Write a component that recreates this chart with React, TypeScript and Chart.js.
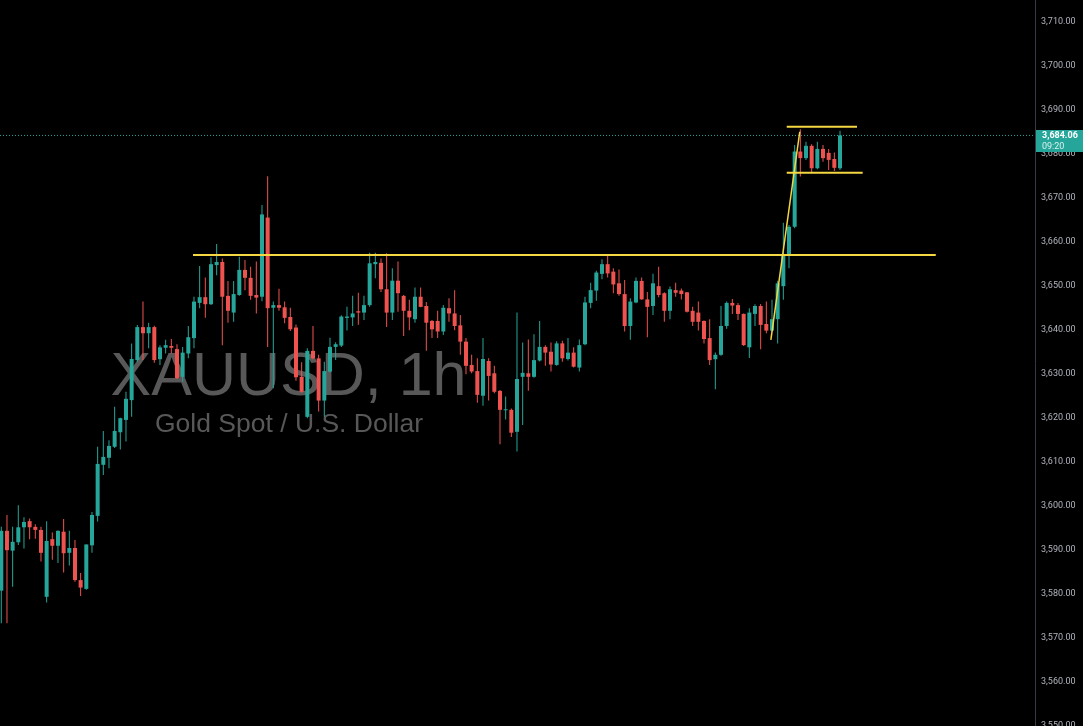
import React, { useEffect, useRef } from "react";
import { Chart, registerables } from "chart.js";

Chart.register(...registerables);

// Hourly candles, XAUUSD (index = bar number)
const opens = [
  3580.6, 3594.2, 3589.7, 3591.6, 3595.0, 3596.4, 3595.1, 3594.4, 3579.2, 3592.3,
  3590.8, 3594.0, 3589.2, 3590.3, 3583.0, 3581.0, 3590.9, 3597.6, 3609.2, 3610.8,
  3613.3, 3616.6, 3619.4, 3623.9, 3633.0, 3640.5, 3639.1, 3640.5, 3633.2, 3635.8,
  3636.2, 3635.5, 3629.2, 3634.5, 3638.0, 3646.0, 3647.3, 3645.7, 3654.6, 3655.3,
  3647.6, 3643.8, 3647.8, 3653.5, 3651.7, 3647.8, 3647.4, 3665.4, 3644.9, 3645.5,
  3645.0, 3642.8, 3640.4, 3629.2, 3620.1, 3635.1, 3633.4, 3623.8, 3630.4, 3636.0,
  3636.3, 3642.6, 3642.7, 3644.1, 3643.8, 3645.5, 3654.8, 3655.1, 3649.1, 3643.8,
  3651.05, 3647.6, 3644.2, 3642.3, 3647.4, 3645.3, 3641.9, 3641.9, 3639.5, 3644.8,
  3643.6, 3640.9, 3637.2, 3631.9, 3630.5, 3624.9, 3632.8, 3630.0, 3626.0, 3621.6,
  3621.7, 3616.7, 3629.2, 3630.0, 3629.2, 3632.9, 3636.0, 3634.9, 3631.9, 3636.8,
  3633.25, 3634.7, 3631.3, 3636.6, 3646.0, 3648.8, 3652.6, 3654.8, 3653.1, 3650.45,
  3648.0, 3640.75, 3646.1, 3651.0, 3646.8, 3645.3, 3649.8, 3648.2, 3644.2, 3648.9,
  3648.8, 3648.4, 3644.2, 3643.8, 3641.9, 3638.0, 3633.2, 3634.2, 3640.75, 3646.0,
  3645.5, 3643.5, 3635.9, 3643.5, 3645.3, 3641.2, 3639.7, 3642.3, 3649.8, 3656.9,
  3663.3, 3680.4, 3678.9, 3681.7, 3676.6, 3681.0, 3680.1, 3678.7, 3676.6,
];
const highs = [
  3595.1, 3597.8, 3595.1, 3600.0, 3597.3, 3597.0, 3595.7, 3595.1, 3596.4, 3593.8,
  3594.3, 3596.9, 3594.2, 3592.1, 3584.6, 3591.1, 3598.5, 3613.3, 3616.9, 3614.8,
  3622.4, 3619.9, 3625.8, 3636.8, 3641.0, 3646.3, 3641.5, 3640.8, 3636.4, 3637.6,
  3637.8, 3636.6, 3636.0, 3640.75, 3647.4, 3654.4, 3651.8, 3656.4, 3659.4, 3656.1,
  3651.0, 3651.0, 3656.5, 3655.75, 3654.2, 3655.4, 3668.25, 3674.8, 3646.3, 3649.2,
  3646.3, 3644.9, 3641.1, 3632.5, 3635.7, 3640.75, 3634.2, 3632.6, 3638.1, 3637.05,
  3643.2, 3645.1, 3647.6, 3648.3, 3647.6, 3657.4, 3657.4, 3656.1, 3657.3, 3653.9,
  3655.4, 3647.8, 3646.7, 3649.5, 3649.5, 3646.2, 3642.1, 3644.2, 3645.5, 3647.05,
  3648.9, 3643.25, 3638.0, 3634.2, 3633.4, 3638.0, 3633.4, 3631.7, 3626.2, 3624.7,
  3622.0, 3643.8, 3637.0, 3637.7, 3638.9, 3641.9, 3636.4, 3637.0, 3637.3, 3637.4,
  3638.0, 3635.9, 3637.7, 3647.4, 3650.6, 3653.3, 3655.9, 3656.7, 3653.9, 3653.6,
  3651.2, 3647.05, 3651.8, 3651.8, 3648.5, 3652.6, 3654.2, 3648.4, 3649.7, 3650.6,
  3649.3, 3648.5, 3645.1, 3646.3, 3642.0, 3642.3, 3634.7, 3645.3, 3646.3, 3646.9,
  3646.0, 3643.6, 3644.8, 3645.7, 3645.75, 3646.3, 3646.7, 3651.05, 3664.2, 3663.7,
  3681.9, 3685.45, 3682.6, 3682.05, 3682.6, 3681.9, 3681.0, 3680.2, 3685.1,
];
const lows = [
  3573.2, 3573.2, 3581.5, 3591.0, 3590.2, 3592.3, 3592.4, 3587.2, 3577.9, 3587.6,
  3586.9, 3584.7, 3586.3, 3582.6, 3579.4, 3580.8, 3589.2, 3596.3, 3606.9, 3608.4,
  3613.0, 3612.7, 3614.5, 3620.1, 3632.6, 3633.0, 3635.7, 3632.4, 3631.9, 3634.5,
  3634.5, 3628.7, 3628.1, 3633.4, 3635.7, 3644.8, 3642.6, 3645.5, 3652.3, 3636.4,
  3641.5, 3641.7, 3647.6, 3648.9, 3646.7, 3643.6, 3646.4, 3636.0, 3626.6, 3644.2,
  3641.4, 3639.6, 3628.3, 3625.6, 3619.8, 3633.2, 3621.3, 3620.1, 3630.2, 3633.0,
  3636.0, 3639.7, 3640.75, 3641.05, 3642.1, 3645.1, 3651.6, 3648.5, 3640.5, 3642.1,
  3644.0, 3638.5, 3639.8, 3641.5, 3645.0, 3635.1, 3638.0, 3638.0, 3638.7, 3641.7,
  3639.8, 3634.2, 3629.8, 3630.0, 3623.3, 3622.6, 3623.8, 3625.45, 3613.9, 3619.5,
  3615.5, 3612.2, 3618.25, 3626.05, 3629.0, 3632.7, 3631.7, 3630.4, 3631.7, 3632.6,
  3632.9, 3631.3, 3630.4, 3636.4, 3644.8, 3646.5, 3651.4, 3651.8, 3648.2, 3647.6,
  3639.5, 3637.6, 3645.9, 3646.7, 3638.2, 3643.25, 3647.3, 3641.7, 3642.3, 3647.4,
  3646.8, 3643.8, 3640.75, 3639.7, 3636.8, 3631.9, 3626.4, 3634.0, 3640.1, 3643.5,
  3642.1, 3636.2, 3633.5, 3640.75, 3635.45, 3639.1, 3639.5, 3636.8, 3646.7, 3653.9,
  3662.95, 3674.7, 3678.5, 3675.45, 3676.4, 3678.1, 3676.2, 3676.0, 3676.2,
];
const closes = [
  3594.2, 3589.8, 3591.7, 3595.0, 3596.2, 3595.0, 3594.4, 3589.2, 3591.9, 3590.8,
  3594.2, 3589.1, 3590.3, 3583.0, 3581.3, 3591.1, 3597.8, 3609.4, 3611.0, 3613.5,
  3616.9, 3619.8, 3624.2, 3633.25, 3640.5, 3639.1, 3640.5, 3633.0, 3635.9, 3636.4,
  3635.8, 3628.9, 3634.7, 3638.2, 3646.3, 3647.3, 3645.7, 3654.8, 3655.3, 3647.4,
  3644.2, 3648.0, 3653.5, 3651.7, 3647.6, 3647.2, 3666.1, 3644.8, 3645.5, 3644.9,
  3642.6, 3640.0, 3629.1, 3625.8, 3635.1, 3633.4, 3623.8, 3630.5, 3636.0, 3636.6,
  3642.9, 3642.9, 3643.6, 3643.8, 3645.5, 3655.0, 3655.3, 3649.1, 3643.8, 3651.05,
  3648.2, 3644.2, 3642.7, 3647.4, 3645.1, 3641.5, 3640.0, 3639.5, 3644.9, 3643.6,
  3640.75, 3637.2, 3631.7, 3630.4, 3625.1, 3633.25, 3629.4, 3625.8, 3621.7, 3621.8,
  3616.5, 3628.7, 3630.1, 3629.2, 3633.0, 3636.0, 3634.7, 3632.0, 3636.8, 3633.4,
  3634.7, 3631.5, 3636.4, 3646.1, 3648.9, 3652.9, 3654.8, 3652.7, 3650.2, 3648.0,
  3640.75, 3646.3, 3651.0, 3646.8, 3645.1, 3650.45, 3647.8, 3644.2, 3649.1, 3648.3,
  3648.0, 3644.0, 3641.7, 3641.7, 3637.8, 3633.0, 3634.2, 3640.75, 3646.0, 3645.4,
  3643.5, 3636.4, 3643.8, 3645.3, 3641.0, 3639.7, 3642.3, 3650.45, 3657.1, 3663.3,
  3680.4, 3678.9, 3681.7, 3676.6, 3681.0, 3678.9, 3678.5, 3676.7, 3684.06,
];

// Price-axis tick labels
const yTicks = [
  3550, 3560, 3570, 3580, 3590, 3600, 3610, 3620, 3630, 3640, 3650, 3660, 3670,
  3680, 3690, 3700, 3710,
];

// Drawn annotations (bar index, price)
const resistanceLine = [
  { x: 33.83, y: 3656.9 },
  { x: 164.9, y: 3656.9 },
];
const flagTop = [
  { x: 138.6, y: 3686.05 },
  { x: 151.0, y: 3686.05 },
];
const flagBottom = [
  { x: 138.6, y: 3675.6 },
  { x: 152.0, y: 3675.6 },
];
const flagPole = [
  { x: 135.8, y: 3637.6 },
  { x: 140.9, y: 3684.9 },
];

const symbolTitle = "XAUUSD, 1h";
const symbolSubtitle = "Gold Spot / U.S. Dollar";
const lastPrice = 3684.06;
const countdown = "09:20";

const X_MIN = -0.23;
const X_MAX = 182.41;
const Y_MIN = 3549.84;
const Y_MAX = 3714.84;

const UP = "#26a69a";
const DOWN = "#ef5350";
const YELLOW = "#f5d742";

const fmt = (v: number) =>
  v.toLocaleString("en-US", { minimumFractionDigits: 2, maximumFractionDigits: 2 });

export default function App() {
  const ref = useRef<HTMLCanvasElement | null>(null);

  useEffect(() => {
    if (!ref.current) return;
    const colors = opens.map((o, i) => (closes[i] >= o ? UP : DOWN));
    const wicks = opens.map((_, i) => ({ x: i, y: [lows[i], highs[i]] }));
    const bodies = opens.map((o, i) => ({ x: i, y: [o, closes[i]] }));

    const watermark = {
      id: "watermark",
      beforeDatasetsDraw(chart: any) {
        const ctx = chart.ctx;
        ctx.save();
        ctx.fillStyle = "#585858";
        ctx.textAlign = "center";
        ctx.textBaseline = "alphabetic";
        ctx.font = '61px "Liberation Sans", Arial, sans-serif';
        ctx.fillText(symbolTitle, 288.5, 395);
        ctx.font = '26.5px "Liberation Sans", Arial, sans-serif';
        ctx.fillText(symbolSubtitle, 289, 432);
        ctx.restore();
      },
    };

    const priceLabel = {
      id: "priceLabel",
      afterDraw(chart: any) {
        const ctx = chart.ctx;
        const y = chart.scales.y.getPixelForValue(lastPrice);
        const left = chart.chartArea.right + 1;
        ctx.save();
        ctx.fillStyle = UP;
        ctx.fillRect(left, Math.round(y - 5), chart.width - left, 22);
        ctx.fillStyle = "#ffffff";
        ctx.textAlign = "left";
        ctx.textBaseline = "middle";
        ctx.font = 'bold 9px Roboto, "Liberation Sans", sans-serif';
        ctx.fillText(fmt(lastPrice), left + 6, y + 0.5);
        ctx.fillStyle = "#d9f2ef";
        ctx.font = '9px Roboto, "Liberation Sans", sans-serif';
        ctx.fillText(countdown, left + 6, y + 11);
        ctx.restore();
      },
    };

    const lineDs = (data: any[], extra: any = {}) => ({
      type: "line",
      data,
      borderColor: YELLOW,
      borderWidth: 2,
      pointRadius: 0,
      tension: 0,
      fill: false,
      order: 0,
      ...extra,
    });

    const chart = new Chart(ref.current, {
      type: "bar",
      data: {
        datasets: [
          lineDs(resistanceLine),
          lineDs(flagTop),
          lineDs(flagBottom),
          lineDs(flagPole, { borderWidth: 1.5 }),
          lineDs(
            [
              { x: X_MIN, y: lastPrice },
              { x: X_MAX, y: lastPrice },
            ],
            { borderColor: UP, borderWidth: 1, borderDash: [1, 2], order: 3 }
          ),
          {
            type: "bar",
            data: wicks,
            backgroundColor: colors,
            barThickness: 1,
            grouped: false,
            borderWidth: 0,
            inflateAmount: 0,
            minBarLength: 1,
            order: 2,
          },
          {
            type: "bar",
            data: bodies,
            backgroundColor: colors,
            barThickness: 4,
            grouped: false,
            borderWidth: 0,
            inflateAmount: 0,
            minBarLength: 1,
            order: 1,
          },
        ] as any,
      },
      options: {
        responsive: false,
        animation: false,
        devicePixelRatio: 1,
        events: [],
        layout: { padding: 0, autoPadding: false },
        plugins: { legend: { display: false }, tooltip: { enabled: false } },
        scales: {
          x: {
            type: "linear",
            min: X_MIN,
            max: X_MAX,
            display: false,
            offset: false,
            grid: { display: false },
          },
          y: {
            position: "right",
            min: Y_MIN,
            max: Y_MAX,
            grid: { display: false, drawTicks: false },
            border: { display: true, color: "#363a45", width: 1 },
            ticks: {
              color: "#b2b5be",
              padding: 6,
              font: { family: 'Roboto, "Liberation Sans", sans-serif', size: 9 },
              callback: (v: any) => fmt(Number(v)),
            },
            afterBuildTicks: (axis: any) => {
              axis.ticks = yTicks.map((v) => ({ value: v }));
            },
            afterFit: (axis: any) => {
              axis.width = 48;
              axis.paddingTop = 0;
              axis.paddingBottom = 0;
              axis.paddingLeft = 0;
              axis.paddingRight = 0;
            },
          },
        },
      } as any,
      plugins: [watermark, priceLabel],
    });
    return () => chart.destroy();
  }, []);

  return (
    <div
      style={{
        position: "fixed",
        left: 0,
        top: 0,
        width: 1083,
        height: 726,
        background: "#000",
      }}
    >
      <canvas ref={ref} width={1083} height={726} style={{ display: "block" }} />
    </div>
  );
}
